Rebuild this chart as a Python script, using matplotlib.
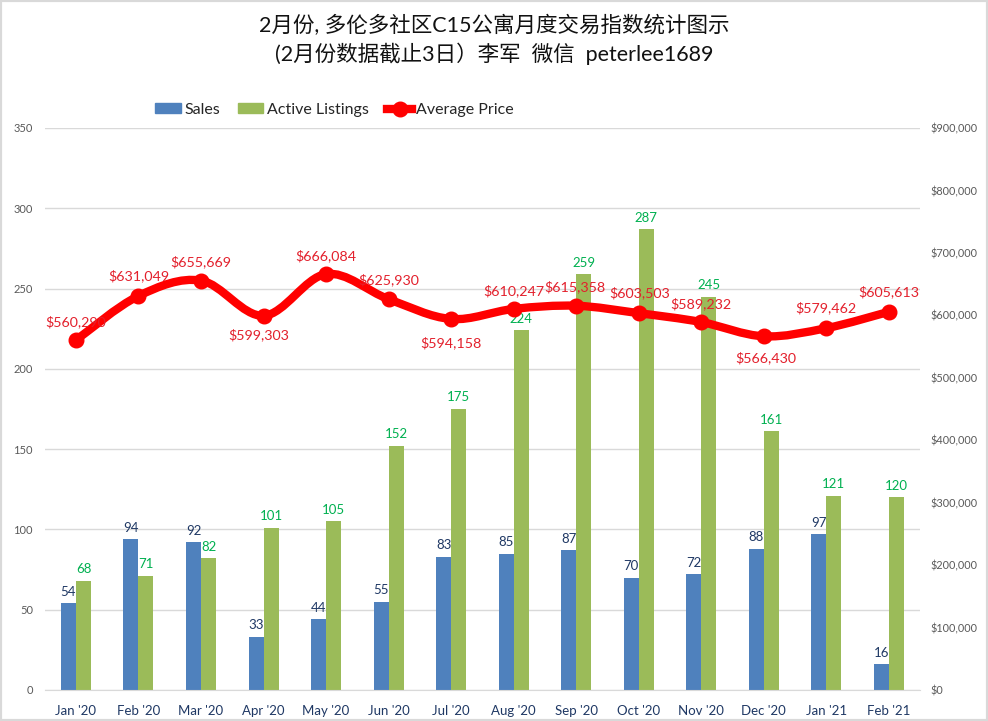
#!/usr/bin/env python3
import numpy as np
import matplotlib
matplotlib.use('Agg')
import matplotlib.pyplot as plt
from matplotlib.path import Path
from matplotlib.patches import PathPatch, Rectangle
from matplotlib.lines import Line2D
from matplotlib.ticker import FuncFormatter

plt.rcParams['font.family'] = ['Lato', 'Noto Sans CJK SC', 'DejaVu Sans']

months = ["Jan '20", "Feb '20", "Mar '20", "Apr '20", "May '20", "Jun '20", "Jul '20",
          "Aug '20", "Sep '20", "Oct '20", "Nov '20", "Dec '20", "Jan '21", "Feb '21"]
sales = [54, 94, 92, 33, 44, 55, 83, 85, 87, 70, 72, 88, 97, 16]
listings = [68, 71, 82, 101, 105, 152, 175, 224, 259, 287, 245, 161, 121, 120]
prices = [560290, 631049, 655669, 599303, 666084, 625930, 594158,
          610247, 615358, 603503, 589232, 566430, 579462, 605613]

title = "2月份, 多伦多社区C15公寓月度交易指数统计图示\n(2月份数据截止3日）李军  微信  peterlee1689"

BLUE = '#4f81bd'
GREEN = '#9bbb59'
RED = '#ff0000'
LABEL_RED = '#e3202c'
NAVY = '#1f3864'
GRID = '#d9d9d9'

# label offset from each price point, in pixels (dx, dy)
price_offsets = [(0, 18), (0, 20), (0, 19), (-5, -19), (0, 18), (0, 19), (0, -24),
                 (0, 18), (-1, 19), (1, 20), (0, 18), (2, -21), (0, 20), (0, 20)]

W, H = 988, 721
fig = plt.figure(figsize=(W / 100, H / 100), dpi=100)
fig.patches.append(Rectangle((0, 0), 1, 1, transform=fig.transFigure, fill=False,
                             ec='#d9d9d9', lw=3))

left, right, top, bottom = 44.7, 920, 128, 690
ax = fig.add_axes([left / W, 1 - bottom / H, (right - left) / W, (bottom - top) / H])
x = np.arange(len(months))
width = 0.24

ax.bar(x - width / 2, sales, width, color=BLUE, zorder=2)
ax.bar(x + width / 2, listings, width, color=GREEN, zorder=2)
ax.set_xlim(-0.5, len(months) - 0.5)
ax.set_ylim(0, 350)
ax.set_yticks(range(0, 351, 50))
ax.set_xticks(x, months)
ax.yaxis.grid(True, color=GRID, lw=1, zorder=0)
ax.set_axisbelow(True)
for s in ax.spines.values():
    s.set_visible(False)
ax.spines['bottom'].set_visible(True)
ax.spines['bottom'].set_color(GRID)
ax.tick_params(axis='x', length=0, labelsize=9.5, labelcolor=NAVY, pad=10.5)
ax.tick_params(axis='y', length=0, labelsize=8, labelcolor='#595959', pad=8.4)

for i in x:
    ax.annotate(str(sales[i]), (i - width / 2, sales[i]), xytext=(0, 4),
                textcoords='offset points', ha='center', va='bottom', fontsize=9.5, color=NAVY, zorder=3)
    ax.annotate(str(listings[i]), (i + width / 2, listings[i]), xytext=(0, 4),
                textcoords='offset points', ha='center', va='bottom', fontsize=9.5, color='#00b050', zorder=3)

ax2 = ax.twinx()
ax2.set_ylim(0, 900000)
ax2.set_yticks(range(0, 900001, 100000))
ax2.yaxis.set_major_formatter(FuncFormatter(lambda v, p: f'${int(v):,}'))
ax2.tick_params(axis='y', length=0, labelsize=7.8, labelcolor='#595959', pad=7.5)
for s in ax2.spines.values():
    s.set_visible(False)

# smoothed line like Excel: catmull-rom segments as bezier curves
pts = np.column_stack([x, prices]).astype(float)
verts = [pts[0]]
codes = [Path.MOVETO]
for i in range(len(pts) - 1):
    p0 = pts[max(i - 1, 0)]
    p1 = pts[i]
    p2 = pts[i + 1]
    p3 = pts[min(i + 2, len(pts) - 1)]
    verts += [p1 + (p2 - p0) / 6, p2 - (p3 - p1) / 6, p2]
    codes += [Path.CURVE4] * 3
ax2.add_patch(PathPatch(Path(verts, codes), fill=False, ec=RED, lw=6, capstyle='round', zorder=4))
ax2.plot(x, prices, ls='none', marker='o', ms=10.5, color=RED, zorder=5)

for i in x:
    dx, dy = price_offsets[i]
    ax2.annotate(f'${prices[i]:,}', (i, prices[i]), xytext=(dx * 0.72, dy * 0.72),
                 textcoords='offset points', ha='center', va='center', fontsize=10.3,
                 color=LABEL_RED, zorder=6)

fig.text(0.5, 1 - 40 / H, title, ha='center', va='center', fontsize=15.5, color='#111111', linespacing=1.33)

handles = [Rectangle((0, 0), 1, 1, color=BLUE), Rectangle((0, 0), 1, 1, color=GREEN),
           Line2D([], [], color=RED, lw=6, marker='o', ms=10.5)]
fig.legend(handles, ['Sales', 'Active Listings', 'Average Price'], loc='center left',
           bbox_to_anchor=(155 / W, 1 - 110 / H), ncol=3, frameon=False, fontsize=11.5,
           labelcolor='#262626', handlelength=1.6, handleheight=0.6, handletextpad=0.25,
           columnspacing=1.1, borderpad=0, borderaxespad=0)

fig.savefig('out.png', dpi=100)
